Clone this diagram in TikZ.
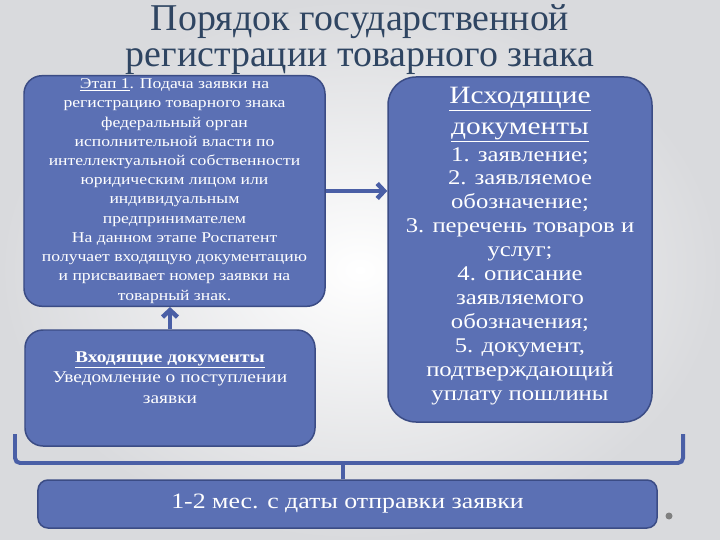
\documentclass[tikz,border=0pt]{standalone}
\usepackage{fontspec}
\setmainfont{Liberation Serif}
\newfontfamily\widefont[FakeStretch=1.18]{Liberation Serif}
\usetikzlibrary{arrows.meta, positioning}
\definecolor{cbox}{HTML}{5B70B4}
\definecolor{cedge}{HTML}{3B4C85}
\definecolor{carrow}{HTML}{4A5FA6}
\definecolor{ctitle}{HTML}{2F4562}
\definecolor{cbg}{HTML}{D9DADD}
\newcommand{\headfont}{\fontsize{25}{29}\selectfont}
\tikzset{
  every picture/.style={line width=1.5pt},
  box/.style={draw=cedge, fill=cbox, text=white, rounded corners=#1, align=center, inner sep=3pt},
  box/.default=18bp,
  arrow/.style={-{Straight Barb[length=7pt, width=15pt]}, draw=carrow, line width=4.5pt},
  brace/.style={draw=carrow, line width=4pt, rounded corners=5bp},
  title/.style={text=ctitle, align=center, font=\fontsize{38}{36}\selectfont},
}

\begin{document}
\begin{tikzpicture}[x=1bp,y=-1bp]
  % background
  \shade[inner color=white, outer color=cbg] (0,0) rectangle (720,540);
  \useasboundingbox (0,0) rectangle (720,540);

  \node[title] (head) at (360,40) {Порядок государственной\\регистрации товарного знака};

  \node[box, minimum width=301bp, minimum height=228bp,
        font=\widefont\fontsize{15}{19.3}\selectfont] (stage) at (174.5,191)
    {\underline{Этап 1}. Подача заявки на\\регистрацию товарного знака\\федеральный орган\\исполнительной власти по\\интеллектуальной собственности\\юридическим лицом или\\индивидуальным\\предпринимателем\\На данном этапе Роспатент\\получает входящую документацию\\и присваивает номер заявки на\\товарный знак.};

  \node[box, minimum width=290bp, minimum height=116bp,
        font=\widefont\fontsize{16.5}{21}\selectfont] (incoming) at (170,388)
    {\textbf{\underline{Входящие документы}}\\Уведомление о поступлении\\заявки\\\mbox{}};

  \node[box=28bp, minimum width=264bp, minimum height=345bp,
        font=\widefont\fontsize{21}{24}\selectfont] (outgoing) at (520,249.5)
    {{\headfont\underline{Исходящие}}\\[7pt]{\headfont\underline{документы}}\\[3pt]
     1. заявление;\\2. заявляемое\\обозначение;\\3. перечень товаров и\\услуг;\\4. описание\\заявляемого\\обозначения;\\5. документ,\\подтверждающий\\уплату пошлины\\[-12pt]\mbox{}};

  \node[box=10bp, minimum width=619bp, minimum height=48bp,
        font=\widefont\fontsize{22}{26}\selectfont] (term) at (347.5,504)
    {1-2 мес. с даты отправки заявки};

  \draw[arrow] (stage.east) -- (stage.east -| outgoing.west);
  \draw[arrow] (incoming.north) -- (incoming.north |- stage.south);

  % brace over both stages
  \draw[brace] (15,434) -- (15,463) -- (683,463) -- (683,434);
  \coordinate (mid) at (343,463);
  \draw[brace] (mid) -- (mid |- term.north);

  \fill[gray] (669,516) circle (3.5bp);
\end{tikzpicture}
\end{document}
